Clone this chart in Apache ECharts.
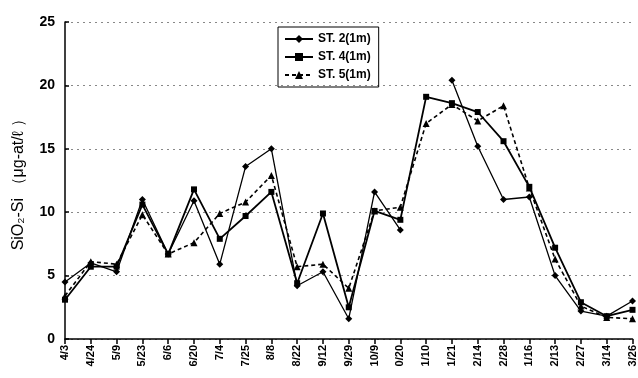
<!DOCTYPE html>
<html>
<head>
<meta charset="utf-8">
<script src="https://cdn.jsdelivr.net/npm/echarts@6/dist/echarts.min.js"></script>
<style>
html,body{margin:0;padding:0;background:#fff;}
#chart{width:638px;height:378px;}
</style>
</head>
<body>
<div id="chart"></div>
<script>
const categories = ['4/3','4/24','5/9','5/23','6/6','6/20','7/4','7/25','8/8','8/22','9/12','9/29','10/9','0/20','1/10','1/21','2/14','2/28','1/16','2/13','2/27','3/14','3/26'];
const st2 = [4.5, 6.0, 5.3, 11.0, 6.7, 10.9, 5.9, 13.6, 15.0, 4.2, 5.3, 1.6, 11.6, 8.6, null, 20.4, 15.2, 11.0, 11.2, 5.0, 2.2, 1.8, 3.0];
const st4 = [3.1, 5.7, 5.7, 10.6, 6.7, 11.8, 7.9, 9.7, 11.6, 4.4, 9.9, 2.5, 10.1, 9.4, 19.1, 18.6, 17.9, 15.6, 12.0, 7.2, 2.9, 1.8, 2.3];
const st5 = [3.4, 6.1, 5.9, 9.8, 6.7, 7.6, 9.9, 10.8, 12.9, 5.7, 5.9, 4.0, 10.1, 10.4, 17.0, 18.5, 17.2, 18.4, 11.9, 6.3, 2.6, 1.7, 1.6];
const seriesNames = ['ST. 2(1m)', 'ST. 4(1m)', 'ST. 5(1m)'];
const yTicks = [0, 5, 10, 15, 20, 25];

const chart = echarts.init(document.getElementById('chart'));
const font = '"Liberation Sans", Arial, sans-serif';
chart.setOption({
  animation: false,
  backgroundColor: '#fff',
  grid: {left: 65, right: 4, top: 22, bottom: 39},
  legend: {
    data: seriesNames,
    orient: 'vertical',
    left: 278, top: 27,
    borderColor: '#000', borderWidth: 1,
    padding: [6, 8, 6, 6],
    itemGap: 6,
    itemWidth: 28, itemHeight: 10,
    textStyle: {fontFamily: font, fontWeight: 'bold', fontSize: 12, color: '#000'}
  },
  xAxis: {
    type: 'category',
    data: categories,
    boundaryGap: false,
    axisLine: {lineStyle: {color: '#000', width: 1.5}},
    axisTick: {show: true, inside: false, length: 5, lineStyle: {color: '#000', width: 1.5}, alignWithLabel: true},
    axisLabel: {rotate: 90, interval: 0, margin: 6, fontFamily: font, fontWeight: 'bold', fontSize: 11, color: '#000'},
    splitLine: {show: false}
  },
  yAxis: {
    type: 'value',
    min: 0, max: 25, interval: 5,
    name: 'SiO₂-Si （μg-at/ℓ ）',
    nameLocation: 'middle',
    nameRotate: 90,
    nameGap: 38,
    nameTextStyle: {fontFamily: font, fontSize: 16, color: '#000'},
    axisLine: {show: true, lineStyle: {color: '#000', width: 1.5}},
    axisTick: {show: true, inside: true, length: 4, lineStyle: {color: '#000', width: 1.5}},
    axisLabel: {margin: 10, fontFamily: font, fontWeight: 'bold', fontSize: 14, color: '#000',
      formatter: v => yTicks.includes(v) ? String(v) : ''},
    splitLine: {show: true, lineStyle: {color: '#888', width: 1, type: [2, 4]}}
  },
  series: [
    {name: seriesNames[0], type: 'line', data: st2, connectNulls: false,
     symbol: 'diamond', symbolSize: 7,
     lineStyle: {color: '#000', width: 1.3, type: 'solid'},
     itemStyle: {color: '#000'}},
    {name: seriesNames[1], type: 'line', data: st4,
     symbol: 'rect', symbolSize: 6,
     lineStyle: {color: '#000', width: 1.8, type: 'solid'},
     itemStyle: {color: '#000'}},
    {name: seriesNames[2], type: 'line', data: st5,
     symbol: 'triangle', symbolSize: 7,
     lineStyle: {color: '#000', width: 1.6, type: [4, 3]},
     itemStyle: {color: '#000'}}
  ]
});
</script>
</body>
</html>
